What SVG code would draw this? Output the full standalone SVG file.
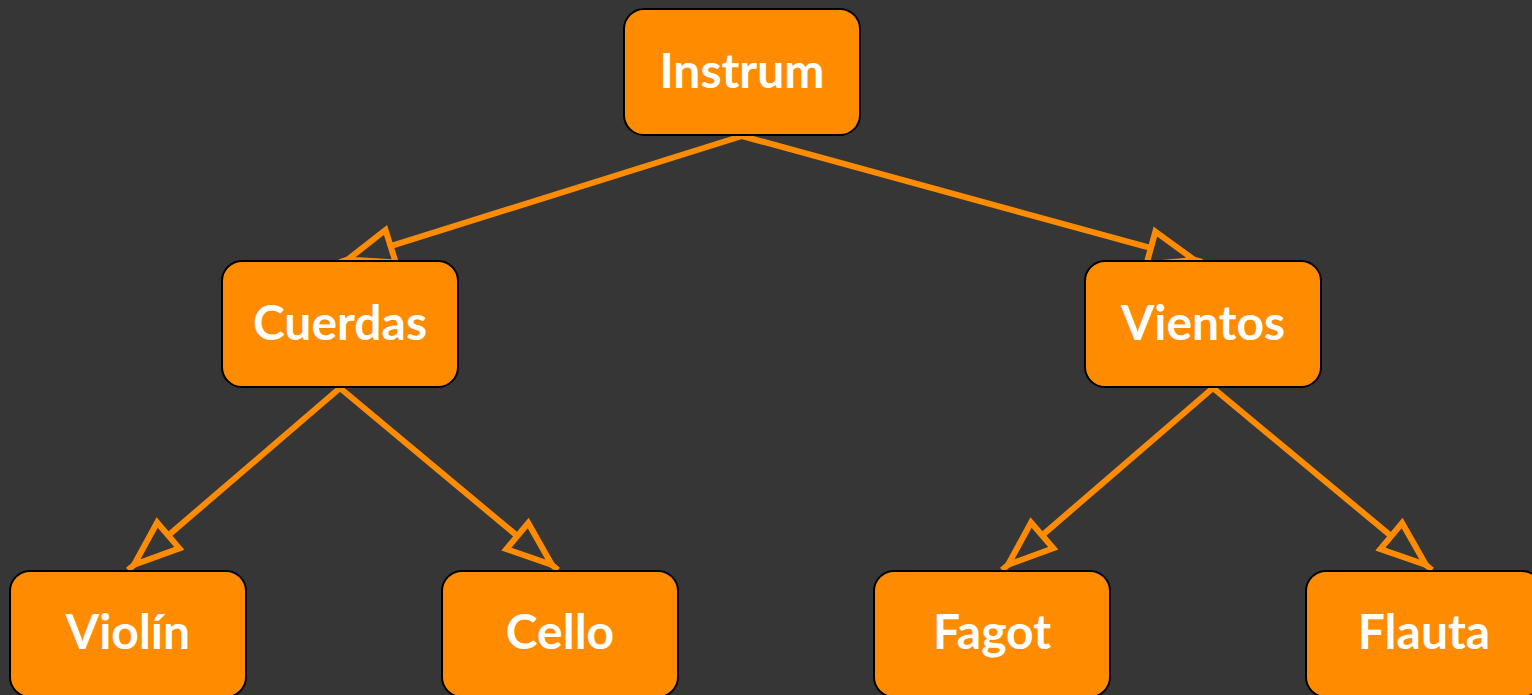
<svg xmlns="http://www.w3.org/2000/svg" width="1532" height="695" viewBox="0 0 1532 695">
  <style>
    .node rect { fill: #FF8C00; stroke: #000000; stroke-width: 2; }
    .node text { fill: #FFFFFF; font-family: Lato, "Open Sans", "Liberation Sans", sans-serif; font-weight: 700; font-size: 48px; text-anchor: middle; }
    .edge { stroke: #FF8C00; stroke-width: 6; fill: none; marker-end: url(#arrow); }
  </style>
  <defs>
    <marker id="arrow" markerUnits="userSpaceOnUse" viewBox="-5 -5 64 44" markerWidth="64" markerHeight="44" refX="53" refY="17" orient="auto" overflow="visible">
      <path d="M0,0 L45,17 L0,34 Z" fill="#363636" stroke="#FF8C00" stroke-width="6"/>
    </marker>
  </defs>
  <rect x="0" y="0" width="1532" height="695" fill="#363636"/>

  <g id="connectors">
    <line class="edge" x1="742" y1="136" x2="340" y2="262"/>
    <line class="edge" x1="742" y1="136" x2="1202" y2="262"/>
    <line class="edge" x1="340" y1="388" x2="128" y2="570"/>
    <line class="edge" x1="340" y1="388" x2="558" y2="570"/>
    <line class="edge" x1="1213" y1="388" x2="1002" y2="570"/>
    <line class="edge" x1="1213" y1="388" x2="1432" y2="570"/>
  </g>

  <g id="instrum" class="node">
    <rect x="624" y="9" width="236" height="126" rx="20"/>
    <text x="742" y="88">Instrum</text>
  </g>
  <g id="cuerdas" class="node">
    <rect x="222" y="261" width="236" height="126" rx="20"/>
    <text x="340" y="340">Cuerdas</text>
  </g>
  <g id="vientos" class="node">
    <rect x="1085" y="261" width="236" height="126" rx="20"/>
    <text x="1203" y="340">Vientos</text>
  </g>
  <g id="violin" class="node">
    <rect x="10" y="571" width="236" height="126" rx="20"/>
    <text x="128" y="649">Violín</text>
  </g>
  <g id="cello" class="node">
    <rect x="442" y="571" width="236" height="126" rx="20"/>
    <text x="560" y="649">Cello</text>
  </g>
  <g id="fagot" class="node">
    <rect x="874" y="571" width="236" height="126" rx="20"/>
    <text x="992" y="649">Fagot</text>
  </g>
  <g id="flauta" class="node">
    <rect x="1306" y="571" width="236" height="126" rx="20"/>
    <text x="1424" y="649">Flauta</text>
  </g>
</svg>
